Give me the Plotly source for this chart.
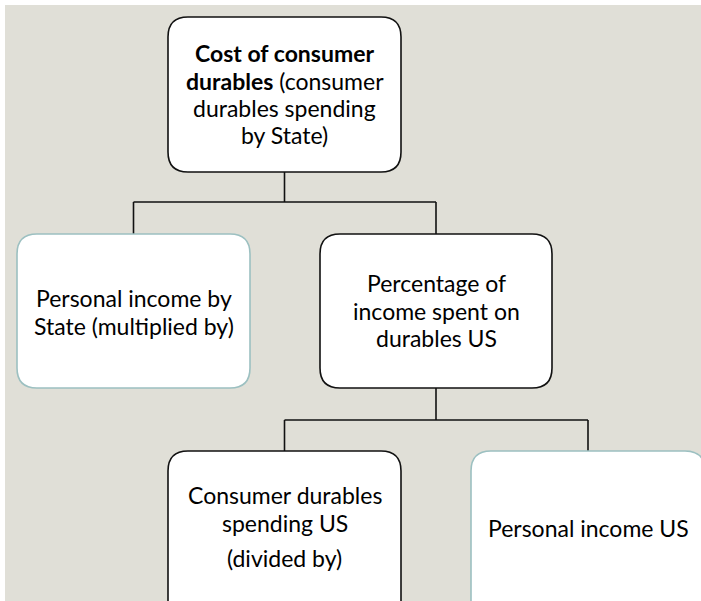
import plotly.graph_objects as go

# ---- content ----
node_ids = ["top", "left", "mid", "botleft", "botright"]
node_lines = {
    "top": ["<b>Cost of consumer</b>", "<b>durables</b> (consumer", "durables spending", "by State)"],
    "left": ["Personal income by", "State (multiplied by)"],
    "mid": ["Percentage of", "income spent on", "durables US"],
    "botleft": ["Consumer durables", "spending US", "(divided by)"],
    "botright": ["Personal income US"],
}
edges = [("top", "left"), ("top", "mid"), ("mid", "botleft"), ("mid", "botright")]

# ---- layout geometry ----
W, H = 701, 601
BG = "#E0DFD7"
box = {
    "top": (168, 17, 401, 172),
    "left": (17, 234, 250, 388),
    "mid": (320, 234, 552, 388),
    "botleft": (168, 451, 401, 640),
    "botright": (471, 451, 705, 640),
}
border = {
    "top": "#111111", "left": "#9CC0C1", "mid": "#111111",
    "botleft": "#111111", "botright": "#9CC0C1",
}
line_y = {
    "top": [53, 81, 108, 135],
    "left": [298, 326],
    "mid": [283, 311, 338],
    "botleft": [495, 523, 558],
    "botright": [528],
}
branch_y = {"top": 202, "mid": 420}
R = 20
FONT = "Lato"
FS = 23


def rrect(x0, y0, x1, y1, r):
    return (f"M{x0+r},{y0} L{x1-r},{y0} Q{x1},{y0} {x1},{y0+r} "
            f"L{x1},{y1-r} Q{x1},{y1} {x1-r},{y1} L{x0+r},{y1} "
            f"Q{x0},{y1} {x0},{y1-r} L{x0},{y0+r} Q{x0},{y0} {x0+r},{y0} Z")


def cx(n):
    return (box[n][0] + box[n][2]) / 2


fig = go.Figure()
shapes = [dict(type="rect", xref="x", yref="y", x0=5, y0=5, x1=W + 20, y1=H + 20,
               fillcolor=BG, line=dict(width=0), layer="below")]

# connectors
for parent in ["top", "mid"]:
    kids = [c for p, c in edges if p == parent]
    by = branch_y[parent]
    xs = [cx(k) for k in kids]
    fig.add_trace(go.Scatter(x=[cx(parent), cx(parent)], y=[box[parent][3], by],
                             mode="lines", line=dict(color="#111111", width=1.6),
                             hoverinfo="skip", showlegend=False))
    fig.add_trace(go.Scatter(x=[min(xs), max(xs)], y=[by, by],
                             mode="lines", line=dict(color="#111111", width=1.6),
                             hoverinfo="skip", showlegend=False))
    for k in kids:
        fig.add_trace(go.Scatter(x=[cx(k), cx(k)], y=[by, box[k][1]],
                                 mode="lines", line=dict(color="#111111", width=1.6),
                                 hoverinfo="skip", showlegend=False))

annotations = []
for n in node_ids:
    x0, y0, x1, y1 = box[n]
    shapes.append(dict(type="path", xref="x", yref="y", path=rrect(x0, y0, x1, y1, R),
                       fillcolor="white", line=dict(color=border[n], width=1.6),
                       layer="above"))
    for txt, yy in zip(node_lines[n], line_y[n]):
        annotations.append(dict(x=cx(n), y=yy, xref="x", yref="y", text=txt,
                                showarrow=False, xanchor="center", yanchor="middle",
                                font=dict(family=FONT, size=FS, color="#000000")))

fig.update_layout(
    width=W, height=H, margin=dict(l=0, r=0, t=0, b=0),
    paper_bgcolor=BG, plot_bgcolor=BG,
    xaxis=dict(range=[0, W], visible=False, fixedrange=True),
    yaxis=dict(range=[H, 0], visible=False, fixedrange=True),
    shapes=shapes, annotations=annotations, showlegend=False,
)
fig.add_shape(type="rect", xref="x", yref="y", x0=-5, y0=-5, x1=W + 20, y1=5,
              fillcolor="white", line=dict(width=0), layer="below")
fig.add_shape(type="rect", xref="x", yref="y", x0=-5, y0=-5, x1=5, y1=H + 20,
              fillcolor="white", line=dict(width=0), layer="below")
fig.write_html("out.html", config={"displayModeBar": False},
               post_script=("document.body.style.margin='0';"
                            "document.body.style.overflow='hidden';"
                            "document.body.style.background='" + BG + "';"
                            "document.documentElement.style.background='" + BG + "';"))
